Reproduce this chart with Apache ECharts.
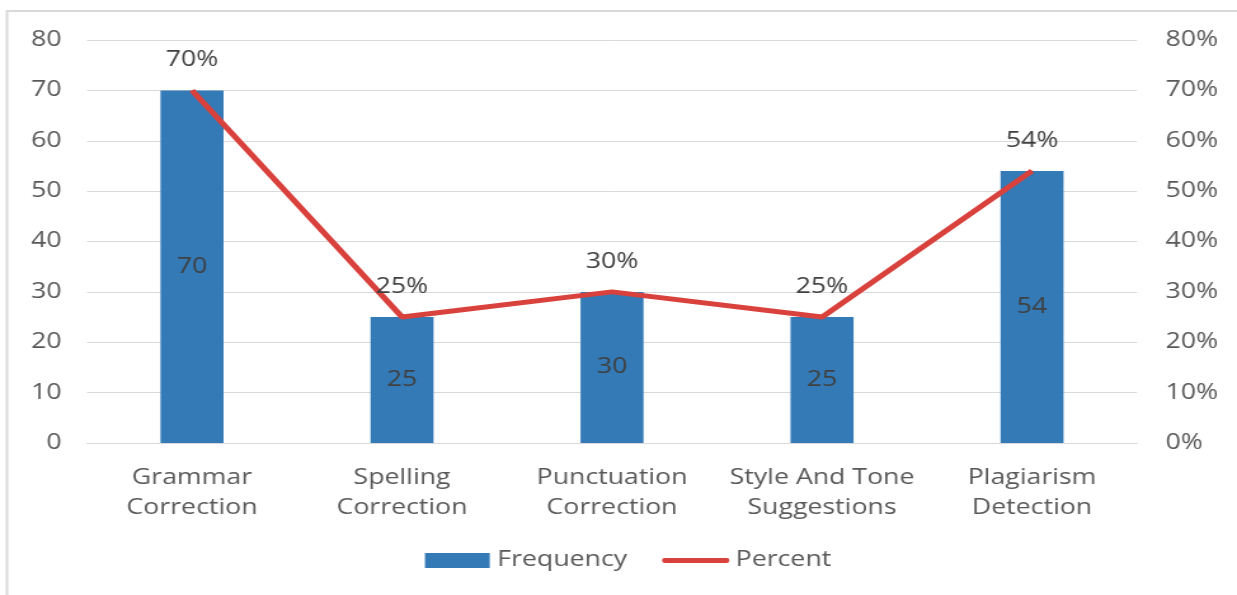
<!DOCTYPE html>
<html>
<head>
<meta charset="utf-8">
<script src="https://cdn.jsdelivr.net/npm/echarts@6/dist/echarts.min.js"></script>
<style>
  html, body { margin: 0; padding: 0; background: #ffffff; overflow: hidden; }
  #page { width: 1237px; height: 595px; overflow: hidden; position: relative; }
  /* the chart is laid out narrow and widened, giving the broad lettering */
  #chart { width: 974px; height: 595px; transform: scaleX(1.27); transform-origin: 0 0; }
</style>
</head>
<body>
<div id="page"><div id="chart"></div></div>
<script>
// Feature categories and their counts / shares
const categories = [
  'Grammar\nCorrection',
  'Spelling\nCorrection',
  'Punctuation\nCorrection',
  'Style And Tone\nSuggestions',
  'Plagiarism\nDetection'
];
const frequency = [70, 25, 30, 25, 54];
const percent = [70, 25, 30, 25, 54];

const FONT = '"Open Sans", "DejaVu Sans", sans-serif';
const TEXT = '#595959';
const RED = '#d9413c';
const BLUE = '#337ab7';

const chart = echarts.init(document.getElementById('chart'));
chart.setOption({
  animation: false,
  backgroundColor: '#ffffff',
  graphic: [{
    type: 'polyline',
    shape: { points: [[5.5, 600], [5.5, 11], [980, 11]] },
    style: { stroke: '#d9d9d9', lineWidth: 2, fill: null },
    silent: true
  }],
  grid: { left: 68.5, right: 78.7, top: 40, bottom: 152, containLabel: false },
  legend: {
    bottom: 24,
    left: 334.6,
    padding: 0,
    itemWidth: 53,
    itemHeight: 15,
    itemGap: 27.5,
    textStyle: { fontFamily: FONT, fontSize: 21, color: TEXT },
    data: [
      { name: 'Frequency', icon: 'path://M0,0H51V15H0Z' },
      { name: 'Percent', icon: 'path://M0,0L0,0.01M2,5H53A2,2.5,0,0,1,53,10H2A2,2.5,0,0,1,2,5ZM55,15L55,15.01' }
    ]
  },
  xAxis: {
    type: 'category',
    data: categories,
    axisLine: { show: true, lineStyle: { color: '#d9d9d9', width: 1 } },
    axisTick: { show: false },
    axisLabel: {
      fontFamily: FONT, fontSize: 21, color: TEXT, margin: 20, lineHeight: 30,
      interval: 0
    }
  },
  yAxis: [{
    type: 'value',
    min: 0, max: 80, interval: 10,
    axisLine: { show: false },
    axisTick: { show: false },
    splitLine: { lineStyle: { color: '#d9d9d9', width: 1 } },
    axisLabel: { fontFamily: FONT, fontSize: 21, color: TEXT, margin: 20, align: 'right' }
  }, {
    type: 'value',
    min: 0, max: 80, interval: 10,
    axisLine: { show: false },
    axisTick: { show: false },
    splitLine: { show: false },
    axisLabel: {
      fontFamily: FONT, fontSize: 21, color: TEXT, margin: 22.5,
      formatter: '{value}%'
    }
  }],
  series: [{
    name: 'Frequency',
    type: 'bar',
    data: frequency,
    barWidth: '30%',
    itemStyle: { color: BLUE },
    label: {
      show: true,
      position: 'inside',
      fontFamily: FONT, fontSize: 21, color: '#404040'
    }
  }, {
    name: 'Percent',
    type: 'line',
    yAxisIndex: 1,
    data: percent,
    symbol: 'circle',
    symbolSize: 1,
    showSymbol: true,
    lineStyle: { color: RED, width: 5 },
    itemStyle: { color: RED },
    label: {
      show: true,
      position: 'top',
      distance: 19,
      formatter: p => p.value + '%',
      fontFamily: FONT, fontSize: 21, color: '#404040'
    }
  }]
});
</script>
</body>
</html>
